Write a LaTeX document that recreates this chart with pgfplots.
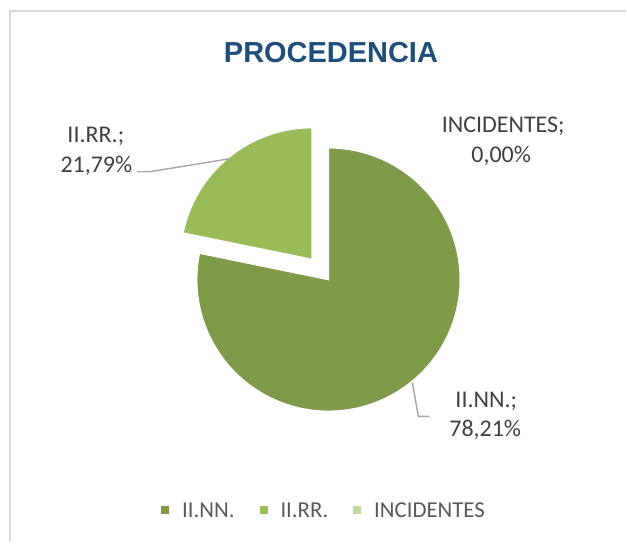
\documentclass[border=0pt]{standalone}
\usepackage{pgfplots}
\pgfplotsset{compat=1.18}
\usepackage{pgfplotstable}
\usepackage{fontspec}
\setmainfont{Carlito}
\newfontfamily\titlefont{Liberation Sans}
\definecolor{nn}{HTML}{7F9A48}
\definecolor{rr}{HTML}{9BBB59}
\definecolor{inc}{HTML}{C3D69B}
\definecolor{titleblue}{HTML}{1F4E79}
\definecolor{lbl}{HTML}{404040}
\definecolor{leg}{HTML}{595959}
\definecolor{frame}{HTML}{D9D9D9}
\definecolor{leader}{HTML}{A6A6A6}

\pgfplotstableread{
cat value
NN 78.21
RR 21.79
INC 0.00
}\pietable
\pgfplotstablegetelem{0}{value}\of\pietable \let\vNN\pgfplotsretval
\pgfplotstablegetelem{1}{value}\of\pietable \let\vRR\pgfplotsretval
\pgfmathsetmacro\aNN{90-3.6*\vNN}
\pgfmathsetmacro\aRR{\aNN-3.6*\vRR}
\pgfmathsetmacro\aMid{(\aNN+\aRR)/2}
\pgfmathsetmacro\ex{26*cos(\aMid)}
\pgfmathsetmacro\ey{-26*sin(\aMid)}

\begin{document}
\begin{tikzpicture}
\begin{axis}[
  width=313.5pt, height=271.5pt, scale only axis,
  xmin=0, xmax=627, ymin=0, ymax=543, y dir=reverse,
  hide axis, clip=false,
  legend columns=-1,
  legend image code/.code={\fill[#1,draw=none] (0pt,-1.6pt) rectangle (4pt,2.4pt);},
  legend style={at={(0.516,0.057)}, anchor=center, draw=none, fill=none,
    font=\fontsize{11.4}{13}\selectfont\color{leg},
    inner sep=0pt, nodes={inner sep=0pt},
    /tikz/every odd column/.append style={column sep=6.5pt},
    /tikz/every even column/.append style={column sep=12.5pt}},
]
\path (axis cs:0,0) rectangle (axis cs:627,543);
% frame
\draw[frame, line width=1pt] (axis cs:10.5,543) -- (axis cs:10.5,10.7) -- (axis cs:627,10.7);
% slices
\addplot[fill=nn, draw=white, line width=0.75pt, domain=\aNN:90, samples=150, variable=\t]
  ({329+132*cos(t)},{280-132*sin(t)}) -- (axis cs:329,280) -- cycle;
\addlegendentry{II.NN.}
\addplot[fill=rr, draw=white, line width=0.75pt, domain=\aRR:\aNN, samples=60, variable=\t]
  ({329+\ex+132*cos(t)},{280+\ey-132*sin(t)}) -- (axis cs:329+\ex,280+\ey) -- cycle;
\addlegendentry{II.RR.}
\addlegendimage{fill=inc}
\addlegendentry{INCIDENTES}
% title
\node[anchor=base, font=\titlefont\bfseries\fontsize{14.5}{17}\selectfont, text=titleblue, inner sep=0pt]
  at (axis cs:331.5,62.7) {PROCEDENCIA};
% leader lines
\draw[leader, line width=0.7pt] (axis cs:230,159) -- (axis cs:150,172) -- (axis cs:137,172);
\draw[leader, line width=0.7pt] (axis cs:413,383) -- (axis cs:419,417) -- (axis cs:430,417);
% data labels
\begin{scope}[every node/.style={anchor=base, inner sep=0pt, text=lbl, font=\fontsize{12}{14}\selectfont}]
\node at (axis cs:96,142.3) {II.RR.;};
\node at (axis cs:96.5,172.3) {21,79\%};
\node at (axis cs:504,132.7) {INCIDENTES;};
\node at (axis cs:502,162.3) {0,00\%};
\node at (axis cs:487,408) {II.NN.;};
\node at (axis cs:486,437) {78,21\%};
\end{scope}
\end{axis}
\end{tikzpicture}
\end{document}
